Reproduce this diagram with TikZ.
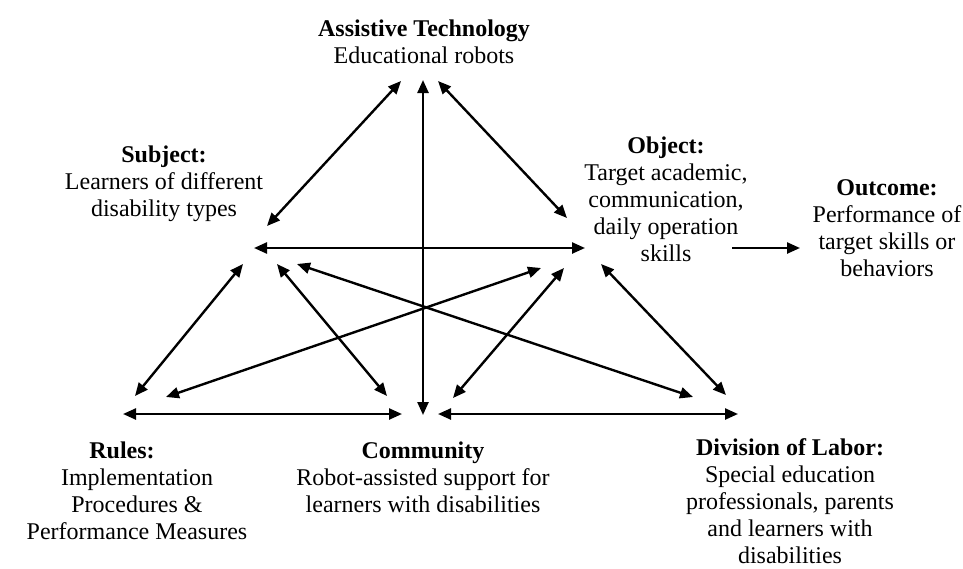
\documentclass[tikz,border=0pt]{standalone}
\usepackage{fontspec}
\setmainfont{Liberation Serif}
\usetikzlibrary{arrows.meta}

\begin{document}
\begin{tikzpicture}[x=0.5pt, y=-0.5pt,
  lbl/.style={anchor=base, align=center, inner sep=0pt, font=\fontsize{12}{13.5}\selectfont},
  link/.style={line width=1.2pt, {Triangle[length=6.5pt,width=5.5pt]}-{Triangle[length=6.5pt,width=5.5pt]}},
  lead/.style={line width=1.2pt, -{Triangle[length=6.5pt,width=5.5pt]}}]
  \useasboundingbox (0,0) rectangle (963,568);

  % Labels (placed at the baseline of their last line)
  \node[lbl] (tech) at (424,63) {\textbf{Assistive Technology}\\Educational robots};
  \node[lbl] (subj) at (164,216) {\textbf{Subject:}\\Learners of different\\disability types};
  \node[lbl] (obj) at (666,261) {\textbf{Object:}\\Target academic,\\communication,\\daily operation\\skills};
  \node[lbl] (outc) at (887,276) {\textbf{Outcome:}\\Performance of\\target skills or\\behaviors};
  \node[lbl] (rul) at (137,539) {\textbf{Rules:}\hspace*{15pt}\\Implementation\\Procedures \&\\Performance Measures};
  \node[lbl] (comm) at (423,512) {\textbf{Community}\\Robot-assisted support for\\learners with disabilities};
  \node[lbl] (div) at (790,563) {\textbf{Division of Labor:}\\Special education\\professionals, parents\\and learners with\\disabilities};

  % Arrow ends near Assistive Technology
  \coordinate (t-s) at (401,81);
  \coordinate (t-o) at (438,81);
  \coordinate (t-c) at (423,80);

  % Arrow ends near Subject
  \coordinate (s-t) at (267,226);
  \coordinate (s-o) at (254,248);
  \coordinate (s-r) at (243,264);
  \coordinate (s-c) at (277,264);
  \coordinate (s-d) at (297,264);

  % Arrow ends near Object
  \coordinate (o-t) at (567,218);
  \coordinate (o-s) at (585,248);
  \coordinate (o-r) at (541,268);
  \coordinate (o-c) at (564,268);
  \coordinate (o-d) at (601,264);
  \coordinate (o-out) at (732,248);
  \coordinate (out-o) at (800,248);

  % Arrow ends near Rules, Community, Division of Labor
  \coordinate (r-s) at (135,396);
  \coordinate (r-o) at (166,397);
  \coordinate (r-c) at (123,414);
  \coordinate (c-t) at (423,415);
  \coordinate (c-s) at (387,396);
  \coordinate (c-o) at (453,398);
  \coordinate (c-r) at (402,414);
  \coordinate (c-d) at (438,414);
  \coordinate (d-s) at (693,397);
  \coordinate (d-o) at (726,395);
  \coordinate (d-c) at (738,414);

  % Upper triangle
  \draw[link] (t-s) -- (s-t);
  \draw[link] (t-o) -- (o-t);
  \draw[link] (t-c) -- (c-t);
  \draw[link] (s-o) -- (o-s);

  % Lower triangles
  \draw[link] (s-r) -- (r-s);
  \draw[link] (s-c) -- (c-s);
  \draw[link] (s-d) -- (d-s);
  \draw[link] (o-r) -- (r-o);
  \draw[link] (o-c) -- (c-o);
  \draw[link] (o-d) -- (d-o);
  \draw[link] (r-c) -- (c-r);
  \draw[link] (c-d) -- (d-c);

  % Outcome
  \draw[lead] (o-out) -- (out-o);

\end{tikzpicture}
\end{document}
